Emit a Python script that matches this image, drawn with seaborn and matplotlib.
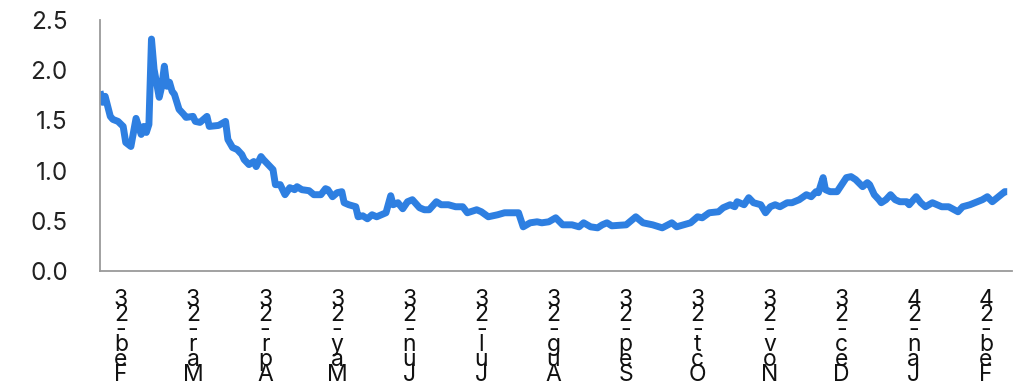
import calendar
import pandas as pd
import matplotlib
matplotlib.use("Agg")
import matplotlib.pyplot as plt
import seaborn as sns

# ---- data -------------------------------------------------------------
dates = [
    "2023-02-01", "2023-02-02", "2023-02-03", "2023-02-05", "2023-02-06", "2023-02-08",
    "2023-02-10", "2023-02-11", "2023-02-12", "2023-02-13", "2023-02-14", "2023-02-15",
    "2023-02-17", "2023-02-18", "2023-02-19", "2023-02-20", "2023-02-21", "2023-02-22",
    "2023-02-24", "2023-02-25", "2023-02-26", "2023-02-27", "2023-02-28",
    "2023-03-01", "2023-03-02", "2023-03-04", "2023-03-06", "2023-03-07", "2023-03-10",
    "2023-03-11", "2023-03-13", "2023-03-16", "2023-03-17", "2023-03-21", "2023-03-24",
    "2023-03-25", "2023-03-27", "2023-03-29", "2023-03-31",
    "2023-04-01", "2023-04-03", "2023-04-05", "2023-04-06", "2023-04-08", "2023-04-09",
    "2023-04-11", "2023-04-13", "2023-04-14", "2023-04-16", "2023-04-18", "2023-04-20",
    "2023-04-22", "2023-04-23", "2023-04-25", "2023-04-28", "2023-04-30",
    "2023-05-03", "2023-05-05", "2023-05-06", "2023-05-08", "2023-05-10", "2023-05-12",
    "2023-05-13", "2023-05-15", "2023-05-18", "2023-05-19", "2023-05-21", "2023-05-23",
    "2023-05-25", "2023-05-27", "2023-05-29", "2023-05-31",
    "2023-06-02", "2023-06-03", "2023-06-05", "2023-06-07", "2023-06-09", "2023-06-11",
    "2023-06-14", "2023-06-16", "2023-06-18", "2023-06-21", "2023-06-23", "2023-06-26",
    "2023-06-29",
    "2023-07-02", "2023-07-04", "2023-07-08", "2023-07-10", "2023-07-13", "2023-07-17",
    "2023-07-20", "2023-07-22", "2023-07-26", "2023-07-28", "2023-07-31",
    "2023-08-03", "2023-08-05", "2023-08-08", "2023-08-11", "2023-08-14", "2023-08-18",
    "2023-08-21", "2023-08-23", "2023-08-26", "2023-08-29", "2023-08-31",
    "2023-09-02", "2023-09-04", "2023-09-10", "2023-09-14", "2023-09-17", "2023-09-21",
    "2023-09-25", "2023-09-29",
    "2023-10-01", "2023-10-04", "2023-10-07", "2023-10-10", "2023-10-12", "2023-10-15",
    "2023-10-19", "2023-10-21", "2023-10-24", "2023-10-26", "2023-10-27", "2023-10-30",
    "2023-11-01", "2023-11-03", "2023-11-06", "2023-11-08", "2023-11-10", "2023-11-12",
    "2023-11-14", "2023-11-17", "2023-11-19", "2023-11-22", "2023-11-25", "2023-11-27",
    "2023-11-29", "2023-11-30",
    "2023-12-02", "2023-12-03", "2023-12-05", "2023-12-08", "2023-12-10", "2023-12-12",
    "2023-12-14", "2023-12-16", "2023-12-19", "2023-12-21", "2023-12-22", "2023-12-24",
    "2023-12-26", "2023-12-27", "2023-12-29", "2023-12-31",
    "2024-01-02", "2024-01-04", "2024-01-07", "2024-01-08", "2024-01-11", "2024-01-13",
    "2024-01-15", "2024-01-18", "2024-01-20", "2024-01-22", "2024-01-25", "2024-01-29",
    "2024-01-31",
    "2024-02-03", "2024-02-06", "2024-02-08", "2024-02-10", "2024-02-12", "2024-02-14",
    "2024-02-17", "2024-02-18",
]
values = [
    1.79, 1.68, 1.74, 1.54, 1.51, 1.49,
    1.44, 1.28, 1.26, 1.24, 1.38, 1.52,
    1.36, 1.44, 1.38, 1.46, 2.31, 2.01,
    1.73, 1.84, 2.04, 1.84, 1.88,
    1.79, 1.76, 1.61, 1.56, 1.53, 1.54,
    1.49, 1.48, 1.54, 1.44, 1.45, 1.49,
    1.31, 1.23, 1.21, 1.16,
    1.11, 1.06, 1.09, 1.04, 1.14, 1.11,
    1.06, 1.01, 0.86, 0.86, 0.76, 0.83,
    0.81, 0.84, 0.81, 0.80, 0.76,
    0.76, 0.82, 0.81, 0.74, 0.78, 0.79,
    0.68, 0.66, 0.64, 0.54, 0.55, 0.52,
    0.56, 0.54, 0.56, 0.58,
    0.75, 0.66, 0.68, 0.62, 0.69, 0.71,
    0.63, 0.61, 0.61, 0.69, 0.66, 0.66,
    0.64,
    0.64, 0.58, 0.61, 0.59, 0.54, 0.56,
    0.58, 0.58, 0.58, 0.44, 0.48,
    0.49, 0.48, 0.49, 0.53, 0.46, 0.46,
    0.44, 0.48, 0.44, 0.43, 0.46,
    0.48, 0.45, 0.46, 0.54, 0.48, 0.46,
    0.43, 0.48,
    0.44, 0.46, 0.48, 0.54, 0.53, 0.58,
    0.59, 0.63, 0.66, 0.64, 0.69, 0.66,
    0.73, 0.68, 0.66, 0.58, 0.64, 0.66,
    0.64, 0.68, 0.68, 0.71, 0.76, 0.74,
    0.79, 0.78,
    0.93, 0.81, 0.79, 0.79, 0.86, 0.93,
    0.94, 0.91, 0.84, 0.88, 0.86, 0.76,
    0.71, 0.68, 0.71, 0.76,
    0.71, 0.69, 0.69, 0.66, 0.74, 0.68,
    0.64, 0.68, 0.66, 0.64, 0.64, 0.59,
    0.64,
    0.66, 0.69, 0.71, 0.74, 0.69, 0.73,
    0.79, 0.79,
]
month_labels = ["Feb-23", "Mar-23", "Apr-23", "May-23", "Jun-23", "Jul-23", "Aug-23",
                "Sep-23", "Oct-23", "Nov-23", "Dec-23", "Jan-24", "Feb-24"]
y_ticks = [0.0, 0.5, 1.0, 1.5, 2.0, 2.5]

# ---- positions: one equal-width slot per month -----------------------
start = pd.Timestamp("2023-02-01")


def month_pos(ts):
    ts = pd.Timestamp(ts)
    idx = (ts.year - start.year) * 12 + (ts.month - start.month)
    ndays = calendar.monthrange(ts.year, ts.month)[1]
    return idx + (ts.day - 1) / ndays


df = pd.DataFrame({"pos": [month_pos(d) for d in dates], "value": values})

# ---- figure ------------------------------------------------------------
sns.set_style("white")
plt.rcParams["font.family"] = ["Inter", "DejaVu Sans"]

fig = plt.figure(figsize=(10.13, 3.89), dpi=100)
ax = fig.add_axes([100 / 1013, 1 - 271 / 389, 912 / 1013, 251 / 389])

sns.lineplot(data=df, x="pos", y="value", ax=ax, color="#2E7FE1",
             linewidth=5.0, solid_joinstyle="round", solid_capstyle="butt")

ax.set_ylim(0, 2.5)
ax.set_xlim(0, (1012 - 100) / 72.08)
ax.set_yticks(y_ticks)
ax.set_yticklabels([f"{v:.1f}" for v in y_ticks])

n = len(month_labels)
ax.set_xticks(range(n))
ax.set_xticklabels([""] * n)
ax.set_xticks([i + 0.29 for i in range(n)], minor=True)
ax.set_xticklabels(["\n".join(reversed(lbl)) for lbl in month_labels], minor=True,
                   linespacing=0.585, fontsize=16.5, va="top")

ax.set_xlabel("")
ax.set_ylabel("")
for side in ("top", "right"):
    ax.spines[side].set_visible(False)
for side in ("left", "bottom"):
    ax.spines[side].set_color("#9a9a9a")
    ax.spines[side].set_linewidth(1.3)

ax.tick_params(axis="y", which="major", direction="out", length=7.2, width=1.2,
               color="#9a9a9a", labelsize=17.5, pad=16, labelcolor="#222222")
ax.tick_params(axis="x", which="major", direction="out", length=8, width=1.2,
               color="#9a9a9a")
ax.tick_params(axis="x", which="minor", length=0, pad=13, labelcolor="#111111")

fig.savefig("out.png", dpi=100)
